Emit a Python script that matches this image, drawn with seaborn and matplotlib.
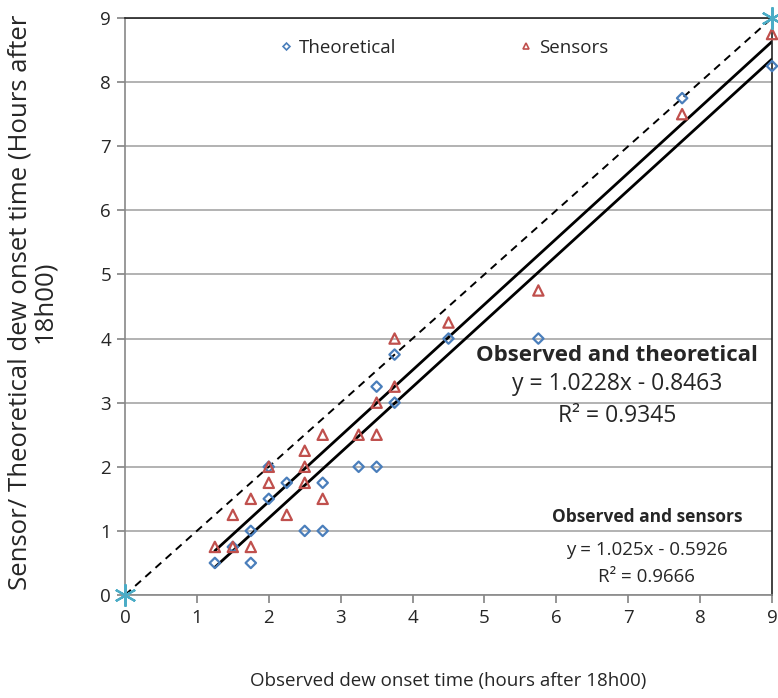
import numpy as np
import matplotlib
matplotlib.use("Agg")
import matplotlib.pyplot as plt
import seaborn as sns
from matplotlib.lines import Line2D

# ─── DATA ──────────────────────────────────────────────────────────────────────
theo_x = [1.25, 1.75, 1.5, 1.75, 2.5, 2.75, 2.0, 2.25, 2.75, 2.0, 3.25, 3.5,
          3.5, 3.75, 3.75, 4.5, 5.75, 7.75, 9.0]
theo_y = [0.5, 0.5, 0.75, 1.0, 1.0, 1.0, 1.5, 1.75, 1.75, 2.0, 2.0, 2.0,
          3.25, 3.0, 3.75, 4.0, 4.0, 7.75, 8.25]

sens_x = [1.25, 1.5, 1.75, 1.5, 2.25, 1.75, 2.75, 2.0, 2.5, 2.0, 2.5, 2.5,
          2.75, 3.25, 3.5, 3.5, 3.75, 3.75, 4.5, 5.75, 7.75, 9.0]
sens_y = [0.75, 0.75, 0.75, 1.25, 1.25, 1.5, 1.5, 1.75, 1.75, 2.0, 2.0, 2.25,
          2.5, 2.5, 2.5, 3.0, 3.25, 4.0, 4.25, 4.75, 7.5, 8.75]

ref_x = [0, 9]          # 1:1 line
ref_y = [0, 9]

fit_range = [1.25, 9.0]
theo_fit = (1.0228, -0.8463, 0.9345)
sens_fit = (1.025, -0.5926, 0.9666)

BLUE = "#4a7ebb"
RED = "#c0504d"
CYAN = "#4bacc6"

# ─── STYLE ─────────────────────────────────────────────────────────────────────
sns.set_theme(style="white")
plt.rcParams["font.family"] = ["Open Sans", "DejaVu Sans"]
FS = 13.5       # ticks, x label, legend

fig = plt.figure(figsize=(7.78, 6.98), dpi=100)
ax = fig.add_axes([125 / 778, 1 - 595 / 698, 647 / 778, 577 / 698])

# horizontal gridlines only
ax.set_axisbelow(True)
ax.yaxis.grid(True, color="#a6a6a6", linewidth=1.2)
ax.xaxis.grid(False)

# 1:1 dashed line with star markers at the ends
sns.lineplot(x=ref_x, y=ref_y, ax=ax, color="black", linestyle=(0, (4, 3)),
             linewidth=1.4)
ax.plot(ref_x, ref_y, linestyle="none", marker=(6, 2, 0), markersize=16,
        markeredgecolor=CYAN, markeredgewidth=1.6, clip_on=False, zorder=5)

# trend lines
fx = np.array(fit_range)
for slope, icpt, _ in (theo_fit, sens_fit):
    sns.lineplot(x=fx, y=slope * fx + icpt, ax=ax, color="black", linewidth=2)

# points
sns.scatterplot(x=theo_x, y=theo_y, ax=ax, marker="D", s=28, fc="none",
                ec=BLUE, linewidth=1.6, clip_on=False, zorder=4)
sns.scatterplot(x=sens_x, y=sens_y, ax=ax, marker="^", s=55, fc="none",
                ec=RED, linewidth=1.6, clip_on=False, zorder=4)

ax.set_xlim(0, 9)
ax.set_ylim(0, 9)
ax.set_xticks(range(10))
ax.set_yticks(range(10))
ax.tick_params(axis="both", which="both", labelsize=FS, length=6,
               color="#888888", direction="out", bottom=True, left=True, pad=4)
for s in ("left", "bottom"):
    ax.spines[s].set_color("#888888")
    ax.spines[s].set_linewidth(1.2)
for s in ("top", "right"):
    ax.spines[s].set_color("#222222")
    ax.spines[s].set_linewidth(1.2)

ax.set_xlabel("Observed dew onset time (hours after 18h00)", fontsize=FS)
ax.xaxis.set_label_coords((448 - 125) / 647, (595 - 672) / 577)
ax.set_ylabel("Sensor/ Theoretical dew onset time (Hours after\n18h00)",
              fontsize=18.5, linespacing=0.95)
ax.yaxis.set_label_coords((57 - 125) / 647, (595 - 302) / 577)

# trendline annotations
txt = dict(ha="center", va="center")
ax.text(6.84, 3.74, "Observed and theoretical", fontweight="bold",
        fontsize=16, **txt)
ax.text(6.84, 3.29, f"y = {theo_fit[0]:.4f}x - {abs(theo_fit[1]):.4f}",
        fontsize=16.5, **txt)
ax.text(6.84, 2.79, f"R² = {theo_fit[2]:.4f}", fontsize=16.5, **txt)
ax.text(7.26, 1.22, "Observed and sensors", fontweight="bold",
        fontsize=12.5, **txt)
ax.text(7.26, 0.70, f"y = {sens_fit[0]:.3f}x - {abs(sens_fit[1]):.4f}",
        fontsize=13.5, **txt)
ax.text(7.26, 0.28, f"R² = {sens_fit[2]:.4f}", fontsize=13.5, **txt)

# legend
handles = [
    Line2D([], [], linestyle="none", marker="D", markersize=3.5,
           markerfacecolor="none", markeredgecolor=BLUE, markeredgewidth=1.2),
    Line2D([], [], linestyle="none", marker="^", markersize=4.5,
           markerfacecolor="none", markeredgecolor=RED, markeredgewidth=1.2),
]
ax.legend(handles, ["Theoretical", "Sensors"], ncol=2, frameon=False,
          loc="center left", bbox_to_anchor=((280 - 125) / 647, 0.948),
          fontsize=FS, handlelength=0.6, handletextpad=0.4, columnspacing=6.6,
          borderaxespad=0, borderpad=0)

fig.savefig("out.png", dpi=100)
